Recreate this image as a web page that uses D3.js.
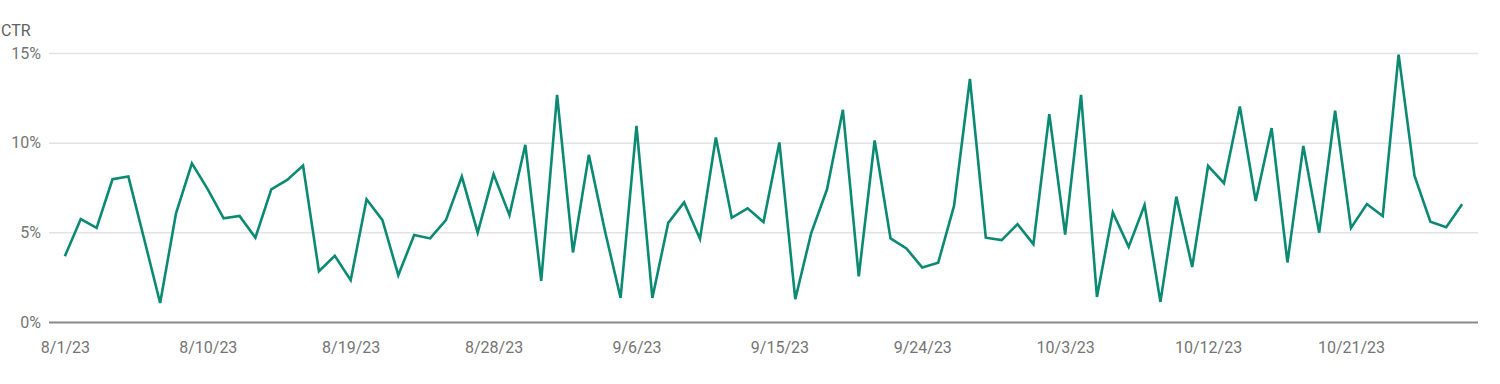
<!DOCTYPE html>
<html lang="en">
<head>
<meta charset="utf-8">
<title>CTR</title>
<style type="text/css">
    body { margin: 0; background: #fff; }
    text { font-family: Roboto, "Noto Sans", sans-serif; }
</style>
</head>
<body>
<script src="https://cdn.jsdelivr.net/npm/d3@7"></script>
<script>

    // daily CTR (%) from 8/1/23 to 10/28/23
    var startDate = "2023-08-01";
    var ctr = [3.67,5.74,5.25,7.96,8.11,4.6,1.06,6.06,8.85,7.4,5.78,5.91,4.70,
               7.40,7.92,8.72,2.83,3.69,2.33,6.84,5.68,2.61,4.85,4.66,5.68,8.11,4.98,8.24,
               5.96,9.88,2.29,12.67,3.88,9.32,5.13,1.34,10.94,1.34,5.53,6.67,4.64,10.29,5.81,
               6.34,5.57,10.01,1.27,4.94,7.40,11.83,2.55,10.12,4.66,4.10,3.04,3.30,6.47,13.55,
               4.70,4.57,5.46,4.34,11.59,4.88,12.67,1.40,6.11,4.19,6.52,1.12,6.99,3.07,8.70,
               7.74,12.02,6.75,10.81,3.32,9.82,4.98,11.78,5.25,6.58,5.91,14.91,8.16,5.59,5.28,6.56];
    var yTicks = [0, 5, 10, 15];
    var xTickDates = ["2023-08-01","2023-08-10","2023-08-19","2023-08-28","2023-09-06",
                      "2023-09-15","2023-09-24","2023-10-03","2023-10-12","2023-10-21"];

    var W = 1500, H = 384;
    var margin = {top: 53, right: 22, bottom: 62, left: 49},
        width = W - margin.left - margin.right,
        height = H - margin.top - margin.bottom;

    var parse = d3.timeParse("%Y-%m-%d");
    var t0 = parse(startDate);
    var data = ctr.map(function(v, i){ return {date: d3.timeDay.offset(t0, i), value: v}; });

    var svg = d3.select("body").append("svg")
                .attr("width", W)
                .attr("height", H);

    var g = svg.append("g")
               .attr("transform", "translate(" + margin.left + "," + margin.top + ")");

    var xScale = d3.scaleTime()
                .domain([d3.timeDay.offset(t0, -1), d3.timeDay.offset(t0, ctr.length)])
                .range([0, width]);

    var yScale = d3.scaleLinear()
                .domain([0, 15])
                .range([height, 0]);

    // grid + y labels
    var yAxis = d3.axisLeft(yScale)
                .tickValues(yTicks)
                .tickSize(-width)
                .tickPadding(8)
                .tickFormat(function(d){ return d + "%"; });
    var yAxisGroup = g.append("g").call(yAxis);
    yAxisGroup.select(".domain").remove();
    yAxisGroup.selectAll(".tick line").attr("stroke", "#e3e3e3").attr("stroke-width", 1.5);
    yAxisGroup.selectAll(".tick text")
              .attr("x", -8)
              .attr("fill", "#757575")
              .style("font-size", "16px");
    yAxisGroup.selectAll(".tick").filter(function(d){ return d === 0; })
              .select("line").attr("stroke", "#8a8a8a").attr("stroke-width", 2);

    // x labels
    var xAxis = d3.axisBottom(xScale)
                .tickValues(xTickDates.map(parse))
                .tickSize(0)
                .tickPadding(20)
                .tickFormat(d3.timeFormat("%-m/%-d/%y"));
    var xAxisGroup = g.append("g").call(xAxis)
                .attr("transform", "translate(0," + height + ")");
    xAxisGroup.select(".domain").remove();
    xAxisGroup.selectAll(".tick text")
              .attr("fill", "#757575")
              .style("font-size", "16px");

    var line = d3.line()
                .x(function(d){ return xScale(d.date); })
                .y(function(d){ return yScale(d.value); });

    g.append("path")
        .datum(data)
        .attr("fill", "none")
        .attr("stroke", "#0b8a73")
        .attr("stroke-width", 2.6)
        .attr("stroke-linejoin", "miter")
        .attr("d", line);

    svg.append("text")
        .attr("x", 1)
        .attr("y", 36)
        .attr("fill", "#616161")
        .style("font-size", "16px")
        .text("CTR");

</script>
</body>
</html>
